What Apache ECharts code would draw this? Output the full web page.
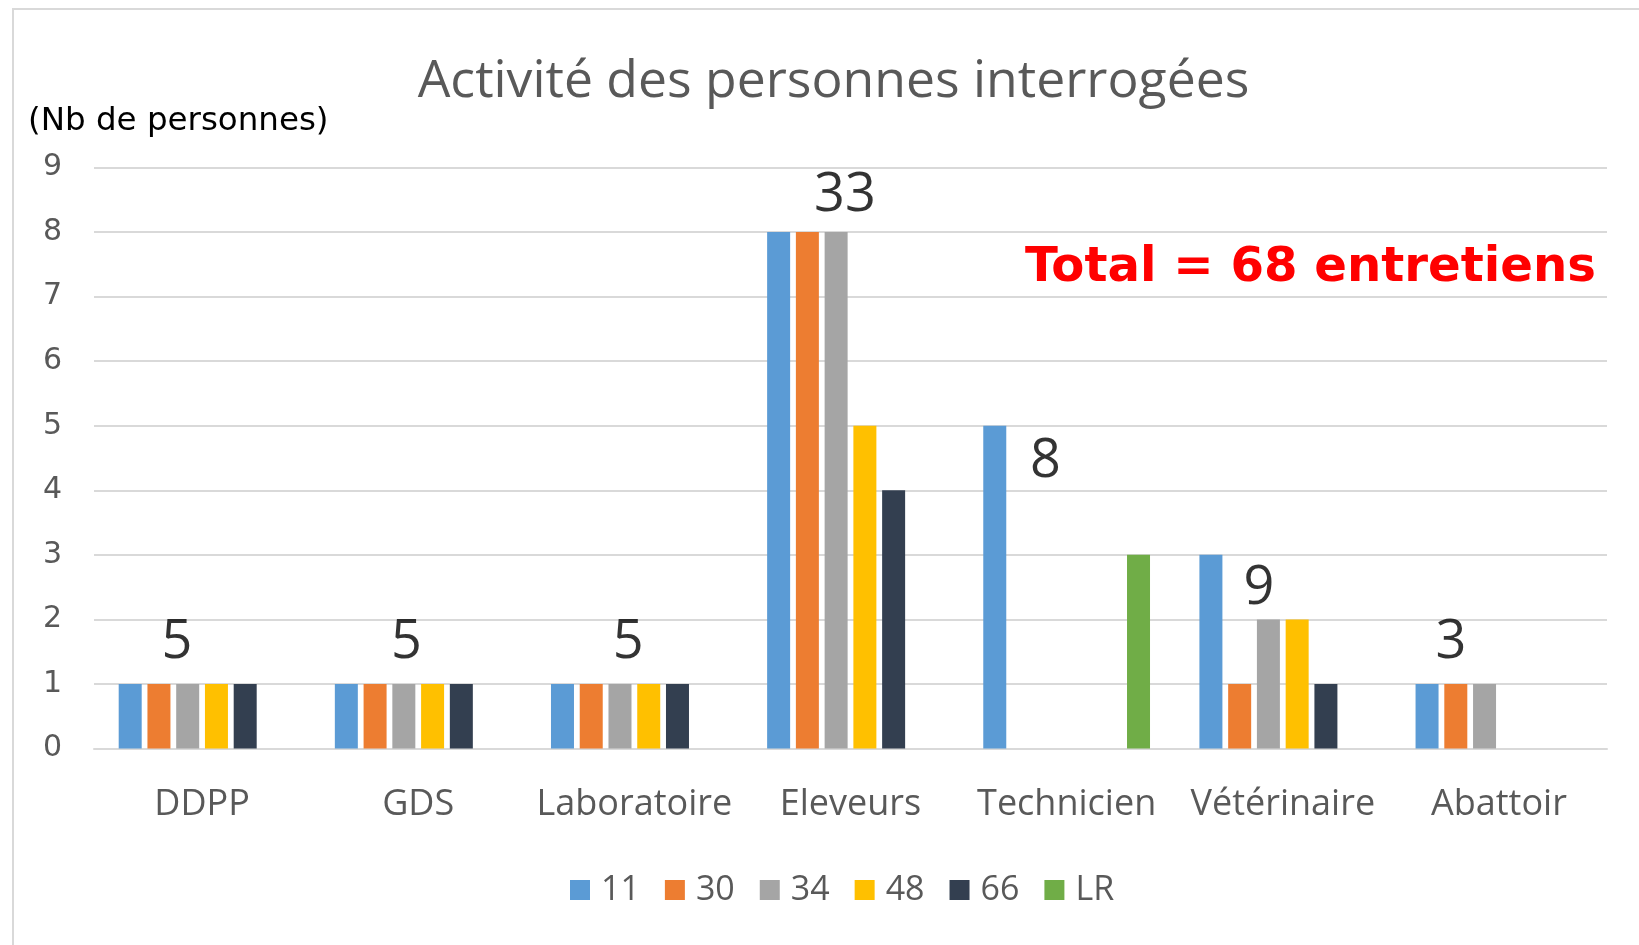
<!DOCTYPE html>
<html>
<head>
<meta charset="utf-8">
<script src="https://cdn.jsdelivr.net/npm/echarts@6/dist/echarts.min.js"></script>
<style>
html,body{margin:0;padding:0;background:#fff;}
#c{width:1639px;height:945px;}
</style>
</head>
<body>
<div id="c"></div>
<script>
const categories = ['DDPP', 'GDS', 'Laboratoire', 'Eleveurs', 'Technicien', 'Vétérinaire', 'Abattoir'];
const seriesNames = ['11', '30', '34', '48', '66', 'LR'];
const s11 = [1, 1, 1, 8, 5, 3, 1];
const s30 = [1, 1, 1, 8, null, 1, 1];
const s34 = [1, 1, 1, 8, null, 2, 1];
const s48 = [1, 1, 1, 5, null, 2, null];
const s66 = [1, 1, 1, 4, null, 1, null];
const sLR = [null, null, null, null, 3, null, null];
const colors = ['#5B9BD5', '#ED7D31', '#A5A5A5', '#FFC000', '#333F50', '#70AD47'];
const yMin = 0, yMax = 9, yInterval = 1;
// annotation anchors (in axis units) for per-category totals, as placed in the picture
const totalAnchorX = [0.384, 1.446, 2.472, 3.474, 4.402, 5.390, 6.278];
const totalAnchorY = [1.64, 1.64, 1.64, 8.57, 4.445, 2.48, 1.64];

const allSeries = [s11, s30, s34, s48, s66, sLR];
const totals = categories.map((_, i) => allSeries.reduce((a, s) => a + (s[i] || 0), 0));
const grandTotal = totals.reduce((a, b) => a + b, 0);

const chart = echarts.init(document.getElementById('c'), null, {renderer: 'canvas'});

const barSeries = allSeries.map((data, k) => ({
  name: seriesNames[k],
  type: 'bar',
  data: data,
  xAxisIndex: 0,
  barWidth: 23,
  barGap: '25%',
  itemStyle: {color: colors[k]},
  emphasis: {disabled: true}
}));

const option = {
  animation: false,
  backgroundColor: '#ffffff',
  grid: {left: 94, right: 32, top: 167.5, bottom: 196.5, containLabel: false},
  legend: {
    data: seriesNames,
    left: 570,
    top: 873,
    padding: 0,
    itemWidth: 20,
    itemHeight: 20,
    itemGap: 25,
    icon: 'rect',
    textStyle: {fontFamily: 'Open Sans', fontSize: 34, color: '#595959', lineHeight: 34, padding: [0, 0, 0, 6]}
  },
  xAxis: [{
    type: 'category',
    data: categories,
    axisLine: {show: true, lineStyle: {color: '#D9D9D9', width: 2}},
    axisTick: {show: false},
    axisLabel: {interval: 0, fontFamily: 'Open Sans', fontSize: 36, color: '#595959', margin: 38}
  }, {
    type: 'value', min: 0, max: categories.length, show: false
  }],
  yAxis: {
    type: 'value',
    min: yMin, max: yMax, interval: yInterval,
    axisLine: {show: false},
    axisTick: {show: false},
    splitLine: {lineStyle: {color: '#D9D9D9', width: 2}},
    axisLabel: {fontFamily: 'DejaVu Sans', fontSize: 30, color: '#595959', margin: 32}
  },
  series: barSeries.concat([{
    type: 'scatter',
    xAxisIndex: 1,
    yAxisIndex: 0,
    symbolSize: 0,
    silent: true,
    data: totals.map((t, i) => ({value: [totalAnchorX[i], totalAnchorY[i]], total: t})),
    label: {
      show: true,
      position: 'inside',
      formatter: p => String(p.data.total),
      fontFamily: 'Open Sans',
      fontSize: 54,
      color: '#000000'
    }
  }]),
  graphic: [
    {type: 'rect', z: -10, silent: true, shape: {x: 13, y: 9, width: 1700, height: 1000},
      style: {fill: '#ffffff', stroke: '#D9D9D9', lineWidth: 2}},
    {type: 'text', x: 833.5, y: 82, silent: true,
      style: {text: 'Activité des personnes interrogées', font: '51.7px "Open Sans"', fill: '#595959', textAlign: 'center', textVerticalAlign: 'middle'}},
    {type: 'text', x: 28, y: 122, silent: true,
      style: {text: '(Nb de personnes)', font: '32.5px "DejaVu Sans"', fill: '#000000', textAlign: 'left', textVerticalAlign: 'middle'}},
    {type: 'text', x: 1596, y: 268, silent: true,
      style: {text: 'Total = ' + grandTotal + ' entretiens', font: 'bold 48.2px "DejaVu Sans"', fill: '#FF0000', textAlign: 'right', textVerticalAlign: 'middle'}}
  ]
};
chart.setOption(option);
</script>
</body>
</html>
